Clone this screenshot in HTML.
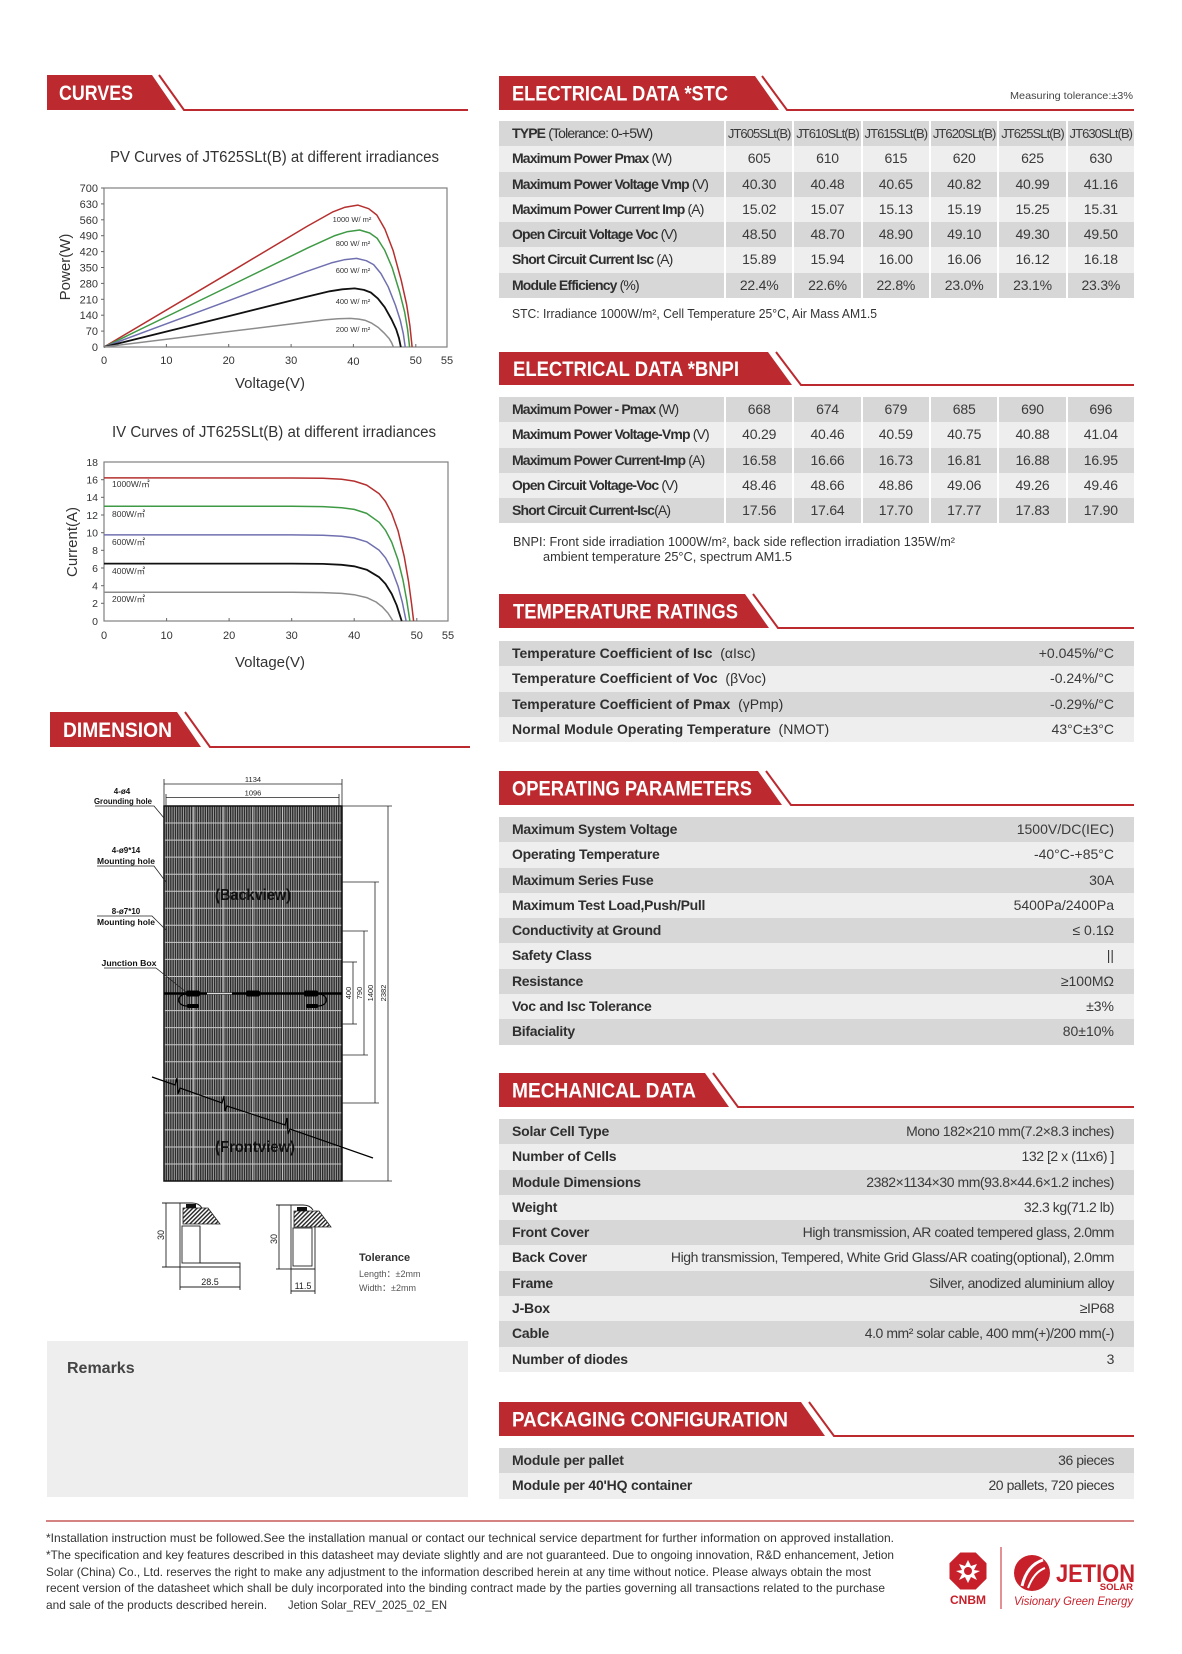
<!DOCTYPE html>
<html><head><meta charset="utf-8">
<style>
html,body{margin:0;padding:0;background:#fff;}
body{width:1182px;height:1654px;position:relative;overflow:hidden;font-family:"Liberation Sans","Noto Sans CJK SC",sans-serif;color:#333;}
svg.pg{position:absolute;left:0;top:0;}
.t{position:absolute;left:499px;width:635px;}
.r{height:25.3px;display:flex;line-height:25.3px;font-size:14px;white-space:nowrap;}
.g{background:#d7d7d7}.l{background:#eeeeee}
.lab{width:225px;flex:none;box-sizing:border-box;padding-left:13px;font-weight:bold;letter-spacing:-0.85px;color:#2f2f2f}
.lab span{font-weight:normal;}
.v{flex:1;border-left:2px solid #fff;text-align:center;color:#3a3a3a;letter-spacing:-0.2px}
.hdr .v{font-size:13px;letter-spacing:-0.95px}
.s{justify-content:space-between;padding:0 20px 0 13px}
.s b{color:#2f2f2f}
.s b span{font-weight:normal}
.s i{font-style:normal;color:#3a3a3a}
.op b{letter-spacing:-0.3px}
.me b{letter-spacing:-0.2px}
.me i{letter-spacing:-0.45px}
</style></head><body>
<svg class="pg" width="1182" height="1654" viewBox="0 0 1182 1654" font-family="Liberation Sans, Noto Sans CJK SC, sans-serif">
<defs>
<pattern id="cellp" width="2.3" height="8" patternUnits="userSpaceOnUse"><rect width="2.3" height="8" fill="#a2a2a2"/><rect width="1.3" height="8" fill="#262626"/></pattern>
<pattern id="hatch" width="3" height="3" patternUnits="userSpaceOnUse" patternTransform="rotate(45)"><rect width="3" height="3" fill="#fff"/><rect width="1.4" height="3" fill="#222"/></pattern>
</defs>

<!-- Section headers -->
<g fill="#bc2a2f">
<polygon points="47,75 152,75 176,110 47,110"/>
<polygon points="50,712 177,712 201,747 50,747"/>
<polygon points="499,76 755,76 779,110 499,110"/>
<polygon points="499,352 768,352 792,385 499,385"/>
<polygon points="499,594 745,594 769,628 499,628"/>
<polygon points="499,771 758,771 782,805 499,805"/>
<polygon points="499,1073 705,1073 729,1107 499,1107"/>
<polygon points="499,1402 801,1402 825,1436 499,1436"/>
</g>
<g fill="none" stroke="#bc2a2f" stroke-width="2">
<polyline points="159,75 184,110 468,110"/>
<polyline points="185,712 210,747 470,747"/>
<polyline points="762,76 787,110 1134,110"/>
<polyline points="776,352 801,385 1134,385"/>
<polyline points="753,594 778,628 1134,628"/>
<polyline points="766,771 791,805 1134,805"/>
<polyline points="713,1073 738,1107 1134,1107"/>
<polyline points="809,1402 834,1436 1134,1436"/>
</g>
<g fill="#fff" font-weight="bold" font-size="21">
<text x="59" y="100" textLength="74" lengthAdjust="spacingAndGlyphs">CURVES</text>
<text x="63" y="737" textLength="109" lengthAdjust="spacingAndGlyphs">DIMENSION</text>
<text x="512" y="100.5" textLength="216" lengthAdjust="spacingAndGlyphs">ELECTRICAL DATA *STC</text>
<text x="513" y="376" textLength="226" lengthAdjust="spacingAndGlyphs">ELECTRICAL DATA *BNPI</text>
<text x="513" y="618.5" textLength="225" lengthAdjust="spacingAndGlyphs">TEMPERATURE RATINGS</text>
<text x="512" y="795.5" textLength="240" lengthAdjust="spacingAndGlyphs">OPERATING PARAMETERS</text>
<text x="512" y="1097.5" textLength="184" lengthAdjust="spacingAndGlyphs">MECHANICAL DATA</text>
<text x="512" y="1426.5" textLength="276" lengthAdjust="spacingAndGlyphs">PACKAGING CONFIGURATION</text>
</g>
<text x="1133" y="99" text-anchor="end" font-size="10.5" fill="#444" textLength="123" lengthAdjust="spacingAndGlyphs">Measuring tolerance:±3%</text>

<!-- PV chart -->
<text x="110" y="162" font-size="15.5" fill="#333" textLength="329" lengthAdjust="spacingAndGlyphs">PV Curves of JT625SLt(B) at different irradiances</text>
<rect x="104" y="188" width="343" height="159" fill="none" stroke="#808080" stroke-width="1.2"/>
<g stroke="#666" stroke-width="1">
<line x1="101" y1="188" x2="104" y2="188"/><line x1="101" y1="203.9" x2="104" y2="203.9"/><line x1="101" y1="219.8" x2="104" y2="219.8"/><line x1="101" y1="235.7" x2="104" y2="235.7"/><line x1="101" y1="251.6" x2="104" y2="251.6"/><line x1="101" y1="267.5" x2="104" y2="267.5"/><line x1="101" y1="283.4" x2="104" y2="283.4"/><line x1="101" y1="299.3" x2="104" y2="299.3"/><line x1="101" y1="315.2" x2="104" y2="315.2"/><line x1="101" y1="331.1" x2="104" y2="331.1"/>
<line x1="166.4" y1="347" x2="166.4" y2="344"/><line x1="228.7" y1="347" x2="228.7" y2="344"/><line x1="291.1" y1="347" x2="291.1" y2="344"/><line x1="353.4" y1="347" x2="353.4" y2="344"/><line x1="415.8" y1="347" x2="415.8" y2="344"/>
</g>
<g font-size="11" fill="#333" text-anchor="end">
<text x="98" y="192">700</text><text x="98" y="208">630</text><text x="98" y="224">560</text><text x="98" y="239.5">490</text><text x="98" y="255.5">420</text><text x="98" y="271.5">350</text><text x="98" y="287.5">280</text><text x="98" y="303.5">210</text><text x="98" y="319">140</text><text x="98" y="335">70</text><text x="98" y="351">0</text>
</g>
<g font-size="11" fill="#333" text-anchor="middle">
<text x="104" y="364">0</text><text x="166.4" y="364">10</text><text x="228.7" y="364">20</text><text x="291.1" y="364">30</text><text x="353.4" y="365">40</text><text x="415.8" y="364">50</text><text x="447" y="364">55</text>
</g>
<text x="270" y="388" font-size="15" fill="#333" text-anchor="middle">Voltage(V)</text>
<text transform="translate(70,267) rotate(-90)" font-size="15" fill="#333" text-anchor="middle">Power(W)</text>
<g fill="none" stroke-width="1.5" stroke-linejoin="round">
<polyline stroke="#b5302f" points="104,347 230.9,271.8 307,226.4 332.4,212.1 345.1,207.2 357.8,205.1 368.7,208.7 376.8,215 384.9,229.1 393.1,250.5 401.2,280.2 406.6,304.4 409.9,325.7 412.1,347"/>
<polyline stroke="#3f9a45" points="104,347 231.8,285 308.5,247.6 334.1,235.9 346.9,231.8 359.7,230 369.7,233 377.1,238.2 384.6,250 392.1,267.5 399.6,292 404.6,311.9 407.6,329.5 409.6,347"/>
<polyline stroke="#7070b0" points="104,347 230.3,300.1 306,271.7 331.3,262.9 344,259.8 356.6,258.4 366.3,260.7 373.6,264.6 380.9,273.5 388.2,286.8 395.5,305.4 400.3,320.4 403.3,333.7 405.2,347"/>
<polyline stroke="#111" stroke-width="1.8" points="104,347 229.3,316 304.6,297.2 329.6,291.3 342.2,289.3 354.7,288.4 363.9,289.9 370.8,292.5 377.8,298.4 384.7,307.2 391.6,319.5 396.2,329.4 399,338.2 400.8,347"/>
<polyline stroke="#8c8c8c" points="104,347 227.2,331.8 301.1,322.7 325.7,319.8 338,318.8 350.3,318.4 358.9,319.1 365.4,320.4 371.8,323.2 378.3,327.5 384.7,333.6 389,338.4 391.6,342.7 393.4,347"/>
</g>
<g font-size="7.5" fill="#333" text-anchor="middle">
<text x="352" y="222">1000 W/ m²</text><text x="353" y="246">800 W/ m²</text><text x="353" y="273">600 W/ m²</text><text x="353" y="304">400 W/ m²</text><text x="353" y="332">200 W/ m²</text>
</g>

<!-- IV chart -->
<text x="112" y="437" font-size="15.5" fill="#333" textLength="324" lengthAdjust="spacingAndGlyphs">IV Curves of JT625SLt(B) at different irradiances</text>
<rect x="104" y="462" width="344" height="159" fill="none" stroke="#808080" stroke-width="1.2"/>
<g stroke="#666" stroke-width="1">
<line x1="101" y1="479.7" x2="104" y2="479.7"/><line x1="101" y1="497.3" x2="104" y2="497.3"/><line x1="101" y1="515" x2="104" y2="515"/><line x1="101" y1="532.7" x2="104" y2="532.7"/><line x1="101" y1="550.3" x2="104" y2="550.3"/><line x1="101" y1="568" x2="104" y2="568"/><line x1="101" y1="585.7" x2="104" y2="585.7"/><line x1="101" y1="603.3" x2="104" y2="603.3"/>
<line x1="166.6" y1="621" x2="166.6" y2="618"/><line x1="229.1" y1="621" x2="229.1" y2="618"/><line x1="291.7" y1="621" x2="291.7" y2="618"/><line x1="354.2" y1="621" x2="354.2" y2="618"/><line x1="416.8" y1="621" x2="416.8" y2="618"/>
</g>
<g font-size="10.5" fill="#333" text-anchor="end">
<text x="98" y="466">18</text><text x="98" y="483.5">16</text><text x="98" y="501">14</text><text x="98" y="519">12</text><text x="98" y="536.5">10</text><text x="98" y="554">8</text><text x="98" y="572">6</text><text x="98" y="589.5">4</text><text x="98" y="607">2</text><text x="98" y="625">0</text>
</g>
<g font-size="11" fill="#333" text-anchor="middle">
<text x="104" y="639">0</text><text x="166.6" y="639">10</text><text x="229.1" y="639">20</text><text x="291.7" y="639">30</text><text x="354.2" y="639">40</text><text x="416.8" y="639">50</text><text x="448" y="639">55</text>
</g>
<text x="270" y="667" font-size="15" fill="#333" text-anchor="middle">Voltage(V)</text>
<text transform="translate(77,542) rotate(-90)" font-size="15" fill="#333" text-anchor="middle">Current(A)</text>
<g fill="none" stroke-width="1.5" stroke-linejoin="round">
<polyline stroke="#b5302f" points="104,477.9 291.7,478 322.9,478.3 341.7,479.3 354.2,481.1 366.7,485.1 379.2,493.8 385.5,501.5 391.7,513.2 398,530.6 404.2,556.4 408.6,581.8 411.7,604.8 413.6,621"/>
<polyline stroke="#3f9a45" points="104,506.2 291.7,506.2 322.9,506.6 341.7,507.7 354.2,509.4 366.7,513.4 379.2,522.3 385.5,530.3 391.7,542.1 398,559.9 403,580.1 406.7,600.2 409.9,621"/>
<polyline stroke="#7070b0" points="104,534.9 291.7,534.9 322.9,535.3 341.7,536.3 354.2,538 366.7,541.8 379.2,550.3 385.5,557.8 391.7,569.2 398,586.1 402.4,602.6 406.1,621"/>
<polyline stroke="#111" stroke-width="1.8" points="104,563.6 291.7,563.6 322.9,563.9 341.7,564.8 354.2,566.3 366.7,569.7 379.2,577.2 385.5,583.9 391.7,593.9 396.7,605.3 401.7,621"/>
<polyline stroke="#8c8c8c" points="104,592.3 291.7,592.3 322.9,592.6 341.7,593.4 354.2,594.7 366.7,597.6 376.1,602 382.3,606.9 388,613.1 393,621"/>
</g>
<g font-size="8.5" fill="#333">
<text x="112" y="487">1000W/㎡</text><text x="112" y="517">800W/㎡</text><text x="112" y="545">600W/㎡</text><text x="112" y="574">400W/㎡</text><text x="112" y="602">200W/㎡</text>
</g>

<!-- Dimension drawing -->
<rect x="164" y="806" width="178" height="375" fill="url(#cellp)"/>
<g stroke="#c8c8c8" stroke-width="1">
<line x1="164" y1="823" x2="342" y2="823"/><line x1="164" y1="840.1" x2="342" y2="840.1"/><line x1="164" y1="857.1" x2="342" y2="857.1"/><line x1="164" y1="874.2" x2="342" y2="874.2"/><line x1="164" y1="891.2" x2="342" y2="891.2"/><line x1="164" y1="908.3" x2="342" y2="908.3"/><line x1="164" y1="925.3" x2="342" y2="925.3"/><line x1="164" y1="942.4" x2="342" y2="942.4"/><line x1="164" y1="959.4" x2="342" y2="959.4"/><line x1="164" y1="976.5" x2="342" y2="976.5"/><line x1="164" y1="1010.6" x2="342" y2="1010.6"/><line x1="164" y1="1027.6" x2="342" y2="1027.6"/><line x1="164" y1="1044.7" x2="342" y2="1044.7"/><line x1="164" y1="1061.7" x2="342" y2="1061.7"/><line x1="164" y1="1078.8" x2="342" y2="1078.8"/><line x1="164" y1="1095.8" x2="342" y2="1095.8"/><line x1="164" y1="1112.9" x2="342" y2="1112.9"/><line x1="164" y1="1129.9" x2="342" y2="1129.9"/><line x1="164" y1="1147" x2="342" y2="1147"/><line x1="164" y1="1164" x2="342" y2="1164"/>
</g>
<g stroke="#cfcfcf" stroke-width="0.8">
<line x1="193.7" y1="806" x2="193.7" y2="1181"/><line x1="223.3" y1="806" x2="223.3" y2="1181"/><line x1="253" y1="806" x2="253" y2="1181"/><line x1="282.7" y1="806" x2="282.7" y2="1181"/><line x1="312.3" y1="806" x2="312.3" y2="1181"/>
</g>
<rect x="164" y="806" width="178" height="375" fill="none" stroke="#111" stroke-width="1.5"/>
<line x1="164" y1="993.5" x2="342" y2="993.5" stroke="#000" stroke-width="2.5"/>
<line x1="207" y1="993.5" x2="232" y2="993.5" stroke="#ddd" stroke-width="1.5"/>
<g fill="#000"><rect x="186" y="990.5" width="14" height="6" rx="2"/><rect x="246" y="990.5" width="14" height="6" rx="2"/><rect x="304" y="990.5" width="14" height="6" rx="2"/><rect x="187" y="1004" width="12" height="4" rx="1.5"/><rect x="306" y="1004" width="12" height="4" rx="1.5"/></g>
<g fill="none" stroke="#000" stroke-width="1.2">
<path d="M187,994 C176,994 176,1006 187,1006"/><path d="M318,994 C329,994 329,1006 318,1006"/>
</g>
<text x="253" y="900" font-size="16" font-weight="bold" fill="#111" text-anchor="middle" textLength="76" lengthAdjust="spacingAndGlyphs">(Backview)</text>
<text x="255" y="1152" font-size="16" font-weight="bold" fill="#111" text-anchor="middle" textLength="80" lengthAdjust="spacingAndGlyphs">(Frontview)</text>
<polyline fill="none" stroke="#000" stroke-width="1.2" points="152,1077 175,1085 177,1078 178,1094 180,1088 222,1103 224,1096 225,1111 227,1106 285,1125 287,1118 288,1134 290,1129 373,1158"/>
<g stroke="#222" stroke-width="0.8" fill="none">
<line x1="164" y1="784" x2="342" y2="784"/><line x1="164" y1="779" x2="164" y2="806"/><line x1="342" y1="779" x2="342" y2="806"/>
<line x1="166" y1="797.5" x2="339" y2="797.5"/><line x1="166" y1="794" x2="166" y2="806"/><line x1="339" y1="794" x2="339" y2="806"/>
<line x1="342" y1="806" x2="392" y2="806"/><line x1="342" y1="1181" x2="392" y2="1181"/><line x1="388" y1="806" x2="388" y2="1181"/>
<line x1="342" y1="882" x2="379" y2="882"/><line x1="342" y1="1103" x2="379" y2="1103"/><line x1="375" y1="882" x2="375" y2="1103"/>
<line x1="342" y1="931" x2="368" y2="931"/><line x1="342" y1="1055" x2="368" y2="1055"/><line x1="364" y1="931" x2="364" y2="1055"/>
<line x1="342" y1="962" x2="357" y2="962"/><line x1="342" y1="1024" x2="357" y2="1024"/><line x1="353" y1="962" x2="353" y2="1024"/>
<polyline points="95,806 154,806 164,818"/>
<polyline points="97,866 154,866 166,882"/>
<polyline points="97,916 152,916 166,930"/>
<polyline points="104,968 156,968 186,992"/>
</g>
<g font-size="7.5" fill="#222" text-anchor="middle">
<text x="253" y="782">1134</text><text x="253" y="795.5">1096</text>
<text transform="translate(386,993) rotate(-90)">2382</text>
<text transform="translate(373,993) rotate(-90)">1400</text>
<text transform="translate(362,993) rotate(-90)">790</text>
<text transform="translate(351,993) rotate(-90)">400</text>
</g>
<g font-size="8" font-weight="bold" fill="#111" text-anchor="middle">
<text x="122" y="794">4-ø4</text><text x="123" y="804" textLength="58" lengthAdjust="spacingAndGlyphs">Grounding hole</text>
<text x="126" y="853">4-ø9*14</text><text x="126" y="864" textLength="58" lengthAdjust="spacingAndGlyphs">Mounting hole</text>
<text x="126" y="914">8-ø7*10</text><text x="126" y="925" textLength="58" lengthAdjust="spacingAndGlyphs">Mounting hole</text>
<text x="129" y="966" textLength="55" lengthAdjust="spacingAndGlyphs">Junction Box</text>
</g>
<!-- frame profiles -->
<g stroke="#222" stroke-width="0.9" fill="none">
<line x1="166" y1="1203" x2="166" y2="1267"/><line x1="162" y1="1203" x2="182" y2="1203"/><line x1="162" y1="1267" x2="180" y2="1267"/>
<path d="M180,1267 L180,1203 L192,1203 Q199,1203 202,1208"/>
<path d="M180,1267 L240,1267 L240,1263 L200,1263 L200,1226"/>
<rect x="182" y="1226" width="18" height="37"/>
<line x1="180" y1="1287" x2="240" y2="1287"/><line x1="180" y1="1267" x2="180" y2="1290"/><line x1="240" y1="1267" x2="240" y2="1290"/>
<line x1="279" y1="1205" x2="279" y2="1269"/><line x1="276" y1="1205" x2="293" y2="1205"/><line x1="276" y1="1269" x2="291" y2="1269"/>
<path d="M291,1269 L291,1205 L303,1205 Q310,1205 313,1210"/>
<path d="M291,1269 L315,1269 L315,1227"/>
<rect x="293" y="1228" width="19" height="38"/>
<line x1="291" y1="1291" x2="315" y2="1291"/><line x1="291" y1="1269" x2="291" y2="1294"/><line x1="315" y1="1269" x2="315" y2="1294"/>
</g>
<polygon points="183,1208 208,1208 220,1224 183,1224" fill="url(#hatch)" stroke="#222" stroke-width="0.8"/>
<polygon points="294,1211 319,1211 331,1227 294,1227" fill="url(#hatch)" stroke="#222" stroke-width="0.8"/>
<rect x="186" y="1204" width="10" height="4" fill="#111"/><rect x="297" y="1207" width="10" height="4" fill="#111"/>
<g font-size="9" fill="#222" text-anchor="middle">
<text transform="translate(164,1235) rotate(-90)">30</text>
<text transform="translate(277,1239) rotate(-90)">30</text>
<text x="210" y="1285">28.5</text><text x="303" y="1289">11.5</text>
</g>
<text x="359" y="1261" font-size="11" font-weight="bold" fill="#333">Tolerance</text>
<text x="359" y="1277" font-size="9" fill="#555">Length：±2mm</text>
<text x="359" y="1291" font-size="9" fill="#555">Width：±2mm</text>

<!-- Remarks -->
<rect x="47" y="1341" width="421" height="156" fill="#eeeeee"/>
<text x="67" y="1373" font-size="16" font-weight="bold" fill="#444">Remarks</text>

<!-- notes -->
<g font-size="13" fill="#333">
<text x="512" y="318" textLength="365" lengthAdjust="spacingAndGlyphs">STC: Irradiance 1000W/m², Cell Temperature 25°C, Air Mass AM1.5</text>
<text x="513" y="546" textLength="442" lengthAdjust="spacingAndGlyphs">BNPI: Front side irradiation 1000W/m², back side reflection irradiation 135W/m²</text>
<text x="543" y="561" textLength="249" lengthAdjust="spacingAndGlyphs">ambient temperature 25°C, spectrum AM1.5</text>
</g>

<!-- footer -->
<line x1="46" y1="1521" x2="1134" y2="1521" stroke="#c7585a" stroke-width="1.6"/>
<g font-size="12" fill="#333">
<text x="46" y="1542" textLength="848" lengthAdjust="spacingAndGlyphs">*Installation instruction must be followed.See the installation manual or contact our technical service department for further information on approved installation.</text>
<text x="46" y="1559" textLength="848" lengthAdjust="spacingAndGlyphs">*The specification and key features described in this datasheet may deviate slightly and are not guaranteed. Due to ongoing innovation, R&amp;D enhancement, Jetion</text>
<text x="46" y="1576" textLength="825" lengthAdjust="spacingAndGlyphs">Solar (China) Co., Ltd. reserves the right to make any adjustment to the information described herein at any time without notice. Please always obtain the most</text>
<text x="46" y="1592" textLength="839" lengthAdjust="spacingAndGlyphs">recent version of the datasheet which shall be duly incorporated into the binding contract made by the parties governing all transactions related to the purchase</text>
<text x="46" y="1609" textLength="221" lengthAdjust="spacingAndGlyphs">and sale of the products described herein.</text>
<text x="288" y="1609" textLength="159" lengthAdjust="spacingAndGlyphs">Jetion Solar_REV_2025_02_EN</text>
</g>

<!-- logos -->
<polygon points="975.7,1552.5 986.5,1563.3 986.5,1578.7 975.7,1589.5 960.3,1589.5 949.5,1578.7 949.5,1563.3 960.3,1552.5" fill="#c8202a"/>
<polygon points="968,1560 971,1566 977,1564 974,1570 980,1571 974,1574 977,1580 971,1577 968,1583 965,1577 959,1580 962,1574 956,1571 962,1570 959,1564 965,1566" fill="#fff"/>
<circle cx="968" cy="1571" r="4" fill="#c8202a"/>
<text x="968" y="1604" font-size="12" font-weight="bold" fill="#c8202a" text-anchor="middle">CNBM</text>
<line x1="1001" y1="1547" x2="1001" y2="1609" stroke="#c8202a" stroke-width="1"/>
<circle cx="1032" cy="1573" r="18" fill="#c8202a"/>
<path d="M1022,1586 Q1027,1565 1043,1560" fill="none" stroke="#fff" stroke-width="3"/>
<path d="M1028,1588 Q1034,1572 1045,1568" fill="none" stroke="#fff" stroke-width="2"/>
<text x="1056" y="1582" font-size="25" font-weight="bold" fill="#c8202a" textLength="79" lengthAdjust="spacingAndGlyphs">JETION</text>
<text x="1133" y="1590" font-size="9.5" font-weight="bold" fill="#c8202a" text-anchor="end">SOLAR</text>
<text x="1014" y="1605" font-size="12" font-style="italic" fill="#c8202a" textLength="119" lengthAdjust="spacingAndGlyphs">Visionary Green Energy</text>
</svg>

<!-- STC table -->
<div class="t" style="top:121px">
<div class="r g hdr"><div class="lab">TYPE <span>(Tolerance: 0-+5W)</span></div><div class="v">JT605SLt(B)</div><div class="v">JT610SLt(B)</div><div class="v">JT615SLt(B)</div><div class="v">JT620SLt(B)</div><div class="v">JT625SLt(B)</div><div class="v">JT630SLt(B)</div></div>
<div class="r l"><div class="lab">Maximum Power Pmax <span>(W)</span></div><div class="v">605</div><div class="v">610</div><div class="v">615</div><div class="v">620</div><div class="v">625</div><div class="v">630</div></div>
<div class="r g"><div class="lab">Maximum Power Voltage Vmp <span>(V)</span></div><div class="v">40.30</div><div class="v">40.48</div><div class="v">40.65</div><div class="v">40.82</div><div class="v">40.99</div><div class="v">41.16</div></div>
<div class="r l"><div class="lab">Maximum Power Current Imp <span>(A)</span></div><div class="v">15.02</div><div class="v">15.07</div><div class="v">15.13</div><div class="v">15.19</div><div class="v">15.25</div><div class="v">15.31</div></div>
<div class="r g"><div class="lab">Open Circuit Voltage Voc <span>(V)</span></div><div class="v">48.50</div><div class="v">48.70</div><div class="v">48.90</div><div class="v">49.10</div><div class="v">49.30</div><div class="v">49.50</div></div>
<div class="r l"><div class="lab">Short Circuit Current Isc <span>(A)</span></div><div class="v">15.89</div><div class="v">15.94</div><div class="v">16.00</div><div class="v">16.06</div><div class="v">16.12</div><div class="v">16.18</div></div>
<div class="r g"><div class="lab">Module Efficiency <span>(%)</span></div><div class="v">22.4%</div><div class="v">22.6%</div><div class="v">22.8%</div><div class="v">23.0%</div><div class="v">23.1%</div><div class="v">23.3%</div></div>
</div>

<!-- BNPI table -->
<div class="t" style="top:397px">
<div class="r g"><div class="lab">Maximum Power - Pmax <span>(W)</span></div><div class="v">668</div><div class="v">674</div><div class="v">679</div><div class="v">685</div><div class="v">690</div><div class="v">696</div></div>
<div class="r l"><div class="lab">Maximum Power Voltage-Vmp <span>(V)</span></div><div class="v">40.29</div><div class="v">40.46</div><div class="v">40.59</div><div class="v">40.75</div><div class="v">40.88</div><div class="v">41.04</div></div>
<div class="r g"><div class="lab">Maximum Power Current-Imp <span>(A)</span></div><div class="v">16.58</div><div class="v">16.66</div><div class="v">16.73</div><div class="v">16.81</div><div class="v">16.88</div><div class="v">16.95</div></div>
<div class="r l"><div class="lab">Open Circuit Voltage-Voc <span>(V)</span></div><div class="v">48.46</div><div class="v">48.66</div><div class="v">48.86</div><div class="v">49.06</div><div class="v">49.26</div><div class="v">49.46</div></div>
<div class="r g"><div class="lab">Short Circuit Current-Isc<span>(A)</span></div><div class="v">17.56</div><div class="v">17.64</div><div class="v">17.70</div><div class="v">17.77</div><div class="v">17.83</div><div class="v">17.90</div></div>
</div>

<!-- Temperature -->
<div class="t" style="top:641px">
<div class="r g s"><b>Temperature Coefficient of Isc <span>&nbsp;(αIsc)</span></b><i>+0.045%/°C</i></div>
<div class="r l s"><b>Temperature Coefficient of Voc <span>&nbsp;(βVoc)</span></b><i>-0.24%/°C</i></div>
<div class="r g s"><b>Temperature Coefficient of Pmax <span>&nbsp;(γPmp)</span></b><i>-0.29%/°C</i></div>
<div class="r l s"><b>Normal Module Operating Temperature <span>&nbsp;(NMOT)</span></b><i>43°C±3°C</i></div>
</div>

<!-- Operating -->
<div class="t op" style="top:817px">
<div class="r g s"><b>Maximum System Voltage</b><i>1500V/DC(IEC)</i></div>
<div class="r l s"><b>Operating Temperature</b><i>-40°C-+85°C</i></div>
<div class="r g s"><b>Maximum Series Fuse</b><i>30A</i></div>
<div class="r l s"><b>Maximum Test Load,Push/Pull</b><i>5400Pa/2400Pa</i></div>
<div class="r g s"><b>Conductivity at Ground</b><i>≤ 0.1Ω</i></div>
<div class="r l s"><b>Safety Class</b><i>||</i></div>
<div class="r g s"><b>Resistance</b><i>≥100MΩ</i></div>
<div class="r l s"><b>Voc and Isc Tolerance</b><i>±3%</i></div>
<div class="r g s"><b>Bifaciality</b><i>80±10%</i></div>
</div>

<!-- Mechanical -->
<div class="t me" style="top:1119px">
<div class="r g s"><b>Solar Cell Type</b><i>Mono 182×210 mm(7.2×8.3 inches)</i></div>
<div class="r l s"><b>Number of Cells</b><i>132 [2 x (11x6) ]</i></div>
<div class="r g s"><b>Module Dimensions</b><i>2382×1134×30 mm(93.8×44.6×1.2 inches)</i></div>
<div class="r l s"><b>Weight</b><i>32.3 kg(71.2 lb)</i></div>
<div class="r g s"><b>Front Cover</b><i>High transmission, AR coated tempered glass, 2.0mm</i></div>
<div class="r l s"><b>Back Cover</b><i>High transmission, Tempered, White Grid Glass/AR coating(optional), 2.0mm</i></div>
<div class="r g s"><b>Frame</b><i>Silver, anodized aluminium alloy</i></div>
<div class="r l s"><b>J-Box</b><i>≥IP68</i></div>
<div class="r g s"><b>Cable</b><i>4.0 mm² solar cable, 400 mm(+)/200 mm(-)</i></div>
<div class="r l s"><b>Number of diodes</b><i>3</i></div>
</div>

<!-- Packaging -->
<div class="t me" style="top:1448px">
<div class="r g s"><b>Module per pallet</b><i>36 pieces</i></div>
<div class="r l s"><b>Module per 40'HQ container</b><i>20 pallets, 720 pieces</i></div>
</div>
</body></html>
